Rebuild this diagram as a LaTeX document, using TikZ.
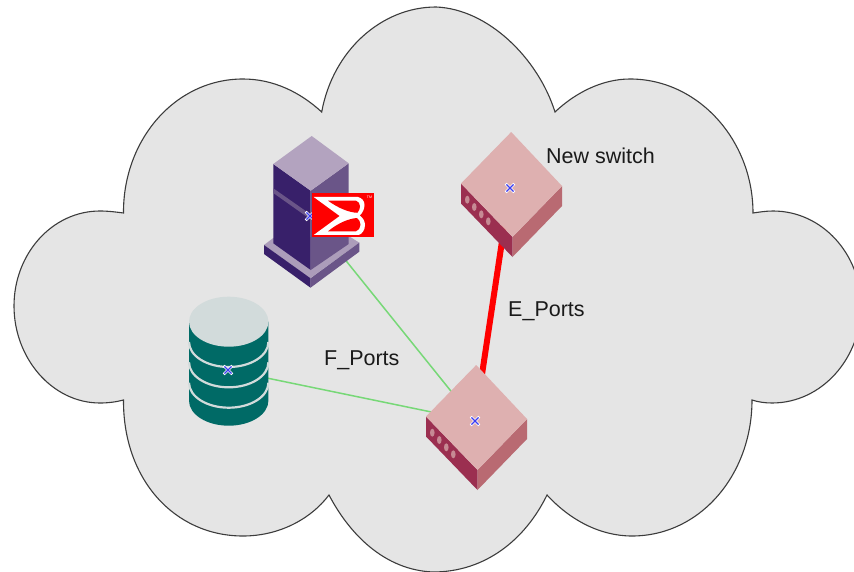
\documentclass[tikz,border=0pt]{standalone}
\usepackage{fontspec}
\setmainfont{Liberation Sans}
\usetikzlibrary{shapes.misc}
\definecolor{cloudfill}{HTML}{E5E5E5}
\definecolor{cloudline}{HTML}{3C3C3C}
\definecolor{linkgreen}{HTML}{77D877}
\definecolor{swtop}{HTML}{DEB0B0}
\definecolor{swleft}{HTML}{9B2F50}
\definecolor{swright}{HTML}{B96A72}
\definecolor{swhole}{HTML}{C68A94}
\definecolor{dbbody}{HTML}{006A66}
\definecolor{dblight}{HTML}{D2DBDB}
\definecolor{srvtop}{HTML}{B3A3BF}
\definecolor{srvleft}{HTML}{38206A}
\definecolor{srvright}{HTML}{6A5588}
\definecolor{srvbase}{HTML}{AC9DBA}
\definecolor{markblue}{HTML}{3C3CF0}
\definecolor{labelink}{HTML}{1A1A1A}
\definecolor{logored}{HTML}{FF0000}
\tikzset{
  cloudshape/.style={fill=cloudfill,draw=cloudline,line width=1.1pt,line join=miter},
  link/.style={draw=linkgreen,line width=1.5pt},
  trunk/.style={draw=logored,line width=6pt},
  lbl/.style={anchor=base west,inner sep=0pt,text=labelink,font=\fontsize{21.5}{24}\selectfont},
  markhalo/.style={cross out,draw=white,line width=2.6pt,minimum size=6pt,inner sep=0pt},
  markcross/.style={cross out,draw=markblue,line width=1.1pt,minimum size=6pt,inner sep=0pt},
  switchpic/.pic={
    \fill[swleft] (-49,-4.5) -- (2.5,49) -- (2.5,69) -- (-49,15.5) -- cycle;
    \fill[swright] (52,-2) -- (2.5,49) -- (2.5,69) -- (52,18) -- cycle;
    \fill[swtop] (1.2,-56) -- (52,-2) -- (2.5,49) -- (-49,-4.5) -- cycle;
    \foreach \hx/\hy in {-42.7/11.7,-35.7/19,-28.7/26.3,-21.7/33.3}
      \fill[swhole] (\hx,\hy) ellipse [x radius=2.3,y radius=4];
  }
}
\begin{document}
\begin{tikzpicture}[x=1pt,y=-1pt]
\useasboundingbox (0,0) rectangle (854,572);
\clip (0,0) rectangle (854,572);
\fill[white] (0,0) rectangle (854,572);

% cloud
\draw[cloudshape] (123.5,400)
  .. controls (116,402) and (108,403) .. (100,403)
  .. controls (52,403) and (14,358) .. (14,306)
  .. controls (14,254) and (52,211) .. (100,211)
  .. controls (108,211) and (116,212) .. (123.5,213)
  .. controls (123,140) and (175,79) .. (243,79)
  .. controls (273,79) and (300,92) .. (321.7,112)
  .. controls (333,50) and (382,7) .. (436,7)
  .. controls (488,9) and (538,58) .. (555,112)
  .. controls (575,93) and (602,79) .. (630,79)
  .. controls (698,79) and (753,140) .. (753,213)
  .. controls (760,212) and (766,211) .. (773,211)
  .. controls (822,211) and (861,254) .. (861,306)
  .. controls (861,358) and (822,403) .. (772,403)
  .. controls (765,403) and (758,402) .. (752,400)
  .. controls (752,475) and (700,536) .. (632,536)
  .. controls (600,536) and (570,520) .. (547,495)
  .. controls (525,540) and (485,572) .. (433,572)
  .. controls (385,570) and (350,535) .. (329,495)
  .. controls (310,520) and (278,536) .. (243,536)
  .. controls (175,536) and (123,480) .. (123.5,400)
  -- cycle;

% anchor points of the devices
\coordinate (srv) at (310,216);
\coordinate (db) at (228,370);
\coordinate (swa) at (510,188);
\coordinate (swb) at (475,421);

% connectors
\draw[link] (srv) -- (swb);
\draw[link] (db) -- (swb);
\draw[trunk] (swa) -- (swb);

% storage
\fill[dbbody] (189,321.7) -- (189,400.7) arc[start angle=180,end angle=360,x radius=39.7,y radius=-25] -- (268.4,321.7) -- cycle;
\foreach \by in {342,362.3,382.7}
  \draw[dblight,line width=2.2pt] (189,\by) arc[start angle=180,end angle=360,x radius=39.7,y radius=-25];
\fill[dblight] (228.7,321.7) ellipse[x radius=39.7,y radius=25];

% director / server
\fill[srvbase] (264,245) -- (273.3,238) -- (348.7,236) -- (359.3,242.7) -- (310,278.3) -- cycle;
\fill[srvleft] (264,245) -- (310.5,278.3) -- (310.5,287.7) -- (264,254) -- cycle;
\fill[srvright] (359.3,242.7) -- (310.5,278.3) -- (310.5,287.7) -- (359.3,251.7) -- cycle;
\fill[srvleft] (273.3,164) -- (310.7,190.7) -- (310.7,270) -- (273.3,243.3) -- cycle;
\fill[srvright] (348.7,163.3) -- (310.7,190.7) -- (310.7,270) -- (348.7,244) -- cycle;
\fill[srvtop] (311.7,136) -- (348.7,163.3) -- (310.7,190.7) -- (273.3,164) -- cycle;
\fill[srvright] (273.3,188.3) -- (310.7,214.5) -- (310.7,219.5) -- (273.3,193) -- cycle;

% switches
\pic at (swa) {switchpic};
\pic at (swb) {switchpic};

% centre marks
\node[markhalo] (srvh) at (srv) {};
\node[markcross] (srvm) at (srv) {};
\node[markhalo] (dbh) at (db) {};
\node[markcross] (dbm) at (db) {};
\node[markhalo] (swah) at (swa) {};
\node[markcross] (swam) at (swa) {};
\node[markhalo] (swbh) at (swb) {};
\node[markcross] (swbm) at (swb) {};

% logo
\fill[logored] (312.3,193.3) rectangle (373.9,237.3);
\fill[white] (313.7,197) -- (358,197)
  .. controls (362,198) and (364.5,201) .. (364.5,205)
  .. controls (364.5,209) and (362.5,213) .. (359.7,215.5)
  .. controls (363,218) and (365,221) .. (365,225)
  .. controls (365,230) and (362,234) .. (358.7,235)
  -- (313.7,235) -- (339.7,216) -- cycle;
\fill[logored] (328,200.7) -- (356,200.7)
  .. controls (358.5,201.5) and (360,203.5) .. (360,206.3)
  .. controls (360,209) and (359,211) .. (357.3,212.8)
  .. controls (349,212.5) and (338,208) .. (328,200.7) -- cycle;
\fill[logored] (328,231.3) -- (356,231.3)
  .. controls (358.5,230.5) and (360.5,228) .. (360.5,224.7)
  .. controls (360.5,222) and (359,219.5) .. (357,218)
  .. controls (349,218.5) and (338,223) .. (328,231.3) -- cycle;
\node[anchor=center,inner sep=0pt,text=white,font=\fontsize{3.6}{4}\selectfont] (tm) at (369.5,197) {TM};

% labels
\node[lbl] (newsw) at (546,164) {New switch};
\node[lbl] (eports) at (508,316) {E\_Ports};
\node[lbl] (fports) at (324,365) {F\_Ports};
\end{tikzpicture}
\end{document}
